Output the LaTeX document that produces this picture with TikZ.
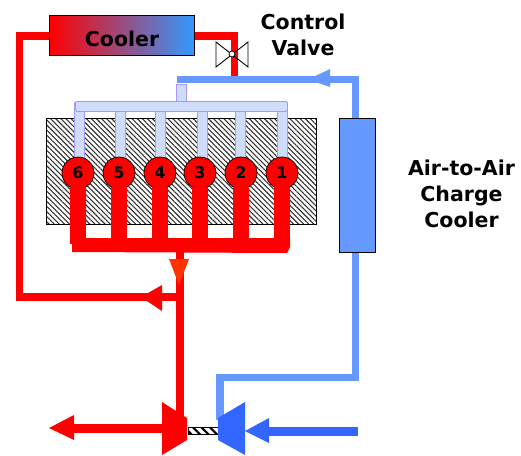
\documentclass[tikz,border=0pt]{standalone}
\usepackage{fontspec}
\setmainfont{DejaVu Sans}
\usetikzlibrary{patterns.meta}
\definecolor{pipeRed}{HTML}{FF0000}
\definecolor{airBlue}{HTML}{6699FF}
\definecolor{deepBlue}{HTML}{3366FF}
\definecolor{paleAir}{HTML}{CFDCFC}
\definecolor{paleEdge}{HTML}{A799F5}
\definecolor{arrowOrange}{HTML}{FF3300}
\definecolor{coolBlue}{HTML}{3399FF}
\definecolor{coolMid}{HTML}{B070B8}
\tikzset{
  redpipe/.style={draw=pipeRed,line width=7.5pt,line join=miter},
  bluepipe/.style={draw=airBlue,line width=7.5pt,line join=miter},
  exhrunner/.style={draw=pipeRed,line width=16pt},
  airrunner/.style={draw=paleEdge,fill=paleAir,line width=0.8pt},
  cyl/.style={circle,draw=black,fill=pipeRed,line width=0.7pt,minimum size=32pt,inner sep=0pt,font=\bfseries\fontsize{16}{16}\selectfont},
  lbl/.style={align=center,font=\bfseries\fontsize{20.5}{26}\selectfont},
  hatchblock/.style={draw=black,line width=0.8pt,pattern={Lines[angle=-45,distance=3.6pt,line width=1.1pt]},pattern color=black!80},
}
\begin{document}
\begin{tikzpicture}[x=1pt,y=-1pt]
\useasboundingbox (0,0) rectangle (521,455);
% engine block
\node[hatchblock,minimum width=270pt,minimum height=106pt,inner sep=0pt,anchor=north west] (block) at (46,118) {};
% coordinates
\coordinate (blueCorner) at (181,79.5);
\coordinate (blueRight) at (355.5,79.5);
\coordinate (ventCorner) at (355.5,377.5);
\coordinate (ventLeft) at (220,377.5);
\coordinate (junction) at (180,297);
\coordinate (wasteLeft) at (19.5,297);
\coordinate (wasteTop) at (19.5,36);
\coordinate (valveTop) at (234.5,36);
\coordinate (valveBot) at (234.5,76);
% cooler
\node[draw=black,line width=0.8pt,minimum width=145pt,minimum height=40pt,inner sep=0pt,anchor=north west,left color=pipeRed,middle color=coolMid,right color=coolBlue] (cooler) at (49,15) {};
\node[font=\bfseries\fontsize{20.5}{20.5}\selectfont,inner sep=0pt] (coolerText) at (122,39) {Cooler};
% coolant pipes
\draw[redpipe] (cooler.west |- wasteTop) -- (wasteTop) -- (wasteLeft) -- (junction);
\draw[redpipe] (cooler.east |- valveTop) -- (valveTop) -- (valveBot);
% valve
\coordinate (valve) at (232,54);
\draw[black,line width=0.9pt] (216,42) -- (248,67) -- (248,42) -- (216,67) -- cycle;
\node[circle,draw=black,fill=white,line width=0.8pt,minimum size=6pt,inner sep=0pt] (valveDisc) at (valve) {};
\node[lbl] (valveLabel) at (303,35) {Control\\Valve};
% charge air
\draw[bluepipe] (blueCorner) -- (blueRight) -- (355.5,118);
\fill[airBlue] (308,79.5) -- (330,69) -- (330,87) -- cycle;
\fill[airBlue] (177,76) rectangle (185,83);
\draw[airrunner] (176,102) -- (176,84) -- (186,84) -- (186,102);
\node[draw=black,line width=0.8pt,fill=airBlue,minimum width=36pt,minimum height=134pt,inner sep=0pt,anchor=north west] (cac) at (339,118) {};
\draw[bluepipe] (ventCorner |- cac.south) -- (ventCorner) -- (ventLeft) -- (220,420);
% intake runners
\foreach \nm/\x in {a/79,b/120,c/160,d/202,e/240,f/282}{
  \draw[airrunner] (\x-5,102) rectangle (\x+5,160);
}
\node[draw=paleEdge,fill=paleAir,line width=0.8pt,rounded corners=1.5pt,minimum width=212pt,minimum height=10pt,inner sep=0pt,anchor=north west] (manifold) at (75,101) {};
% exhaust
\foreach \x in {78,119,160,200,241,282}{
  \draw[exhrunner] (\x,180) -- (\x,244);
}
\fill[pipeRed] (72,238) -- (290,238) -- (290,247) -- (287,253) -- (72,252) -- cycle;
% cylinders
\foreach \nm/\x/\t in {six/78/6,five/119/5,four/160/4,three/200/3,two/241/2,one/282/1}{
  \node[cyl] (\nm) at (\x,173) {\t};
}
\foreach \x in {78,119,160,200,241,282}{
  \fill[pipeRed] (\x-8,187) rectangle (\x+8,195);
}
% exhaust down pipe
\draw[draw=pipeRed,line width=8pt] (180,250) -- (180,420);
\fill[arrowOrange] (169,259) -- (189,259) -- (179,285) -- cycle;
\fill[pipeRed] (141,297) -- (162,285) -- (162,311) -- cycle;
% turbine, shaft, compressor
\node[draw=black,line width=0.8pt,minimum width=31pt,minimum height=7pt,inner sep=0pt,anchor=north west,pattern={Lines[angle=-45,distance=6pt,line width=2pt]}] (shaft) at (187,426) {};
\fill[pipeRed] (162,402) -- (187,418) -- (187,440) -- (162,455) -- cycle;
\fill[deepBlue] (218,418) -- (245,402) -- (245,455) -- (218,440) -- cycle;
\coordinate (turbOut) at (162,428);
\coordinate (outEnd) at (74,428);
\draw[draw=pipeRed,line width=9pt] (turbOut) -- (outEnd);
\fill[pipeRed] (49,428) -- (74,415) -- (74,440) -- cycle;
\coordinate (compIn) at (269,431);
\coordinate (inStart) at (358,431);
\draw[draw=deepBlue,line width=9pt] (inStart) -- (compIn);
\fill[deepBlue] (245,431) -- (269,418) -- (269,443) -- cycle;
% label
\node[lbl] (cacLabel) at (461.5,194) {Air-to-Air\\Charge\\Cooler};
\end{tikzpicture}
\end{document}
